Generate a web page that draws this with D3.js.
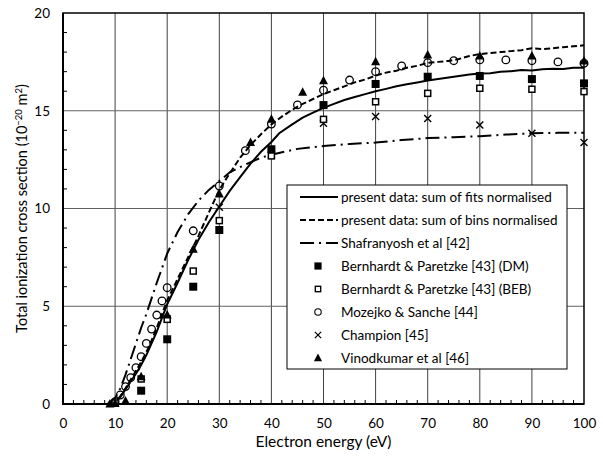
<!DOCTYPE html>
<html><head><meta charset="utf-8">
<script src="https://cdn.jsdelivr.net/npm/d3@7"></script>
<style>body{margin:0;background:#fff}svg{display:block;font-family:Lato,"Open Sans",sans-serif}</style>
</head><body>
<svg id="c" width="603" height="457"></svg>
<script>
// ---- data ----
const xTicks = [0,10,20,30,40,50,60,70,80,90,100];
const yTicks = [0,5,10,15,20];

const fitsE   = [6,9,10,11,12,13,14,15,16,17,18,19,20,22,24,26,28,30,32,34,36,38,40,41.5,44,46,48,50,52,54,56,58,60,62,64,66,68,70,72,74,76,78,80,82,84,86,88,90,92,94,96,98,100];
const fitsY   = [0,0,0.05,0.35,0.75,1.15,1.55,2.0,2.5,3.1,3.7,4.4,5.1,6.2,7.35,8.4,9.3,10.1,10.9,11.6,12.3,12.9,13.4,13.85,14.3,14.65,14.9,15.15,15.35,15.55,15.7,15.85,16.0,16.12,16.25,16.35,16.45,16.55,16.62,16.7,16.78,16.85,16.9,16.92,17.0,17.02,17.08,17.06,17.12,17.15,17.14,17.2,17.2];

const binsE   = [6,9,10,11,12,13,14,15,16,17,18,19,20,22,24,26,28,30,32,34,36,38,40,42,44,46,48,50,52,54,56,58,60,62,64,66,68,70,72,74,76,78,80,82,84,86,88,90,92,94,96,98,100];
const binsY   = [0,0,0.05,0.4,0.8,1.25,1.7,2.15,2.65,3.25,3.9,4.6,5.3,6.4,7.5,8.6,9.8,10.95,11.8,12.6,13.25,13.8,14.3,14.7,15.05,15.35,15.6,15.85,16.05,16.25,16.45,16.6,16.8,16.95,17.05,17.2,17.3,17.45,17.5,17.55,17.65,17.8,17.9,17.95,18.0,18.05,18.1,18.2,18.15,18.2,18.25,18.3,18.35];

const shafE   = [8.5,10,11,12,13,14,15,16,17,18,19,20,22,24,26,28,30,32,35,38,40,45,50,55,60,65,70,75,80,85,90,95,100];
const shafY   = [0,0.3,0.8,1.5,2.3,3.1,3.9,4.6,5.4,6.2,6.95,7.7,8.8,9.7,10.4,10.95,11.4,11.85,12.25,12.6,12.75,13.05,13.2,13.3,13.37,13.5,13.6,13.65,13.7,13.78,13.85,13.87,13.88];

const dmE     = [15,20,25,30,40,50,60,70,80,90,100];
const dmY     = [0.68,3.31,6.0,8.9,13.03,15.29,16.37,16.74,16.78,16.62,16.4];

const bebE    = [10,15,20,25,30,40,50,60,70,80,90,100];
const bebY    = [0.05,1.28,4.33,6.8,9.38,12.69,14.56,15.46,15.89,16.15,16.1,15.98];

const mozE    = [10,11,12,13,14,15,16,17,18,19,20,25,30,35,40,45,50,55,60,65,70,75,80,85,90,95,100];
const mozY    = [0.12,0.46,0.89,1.35,1.86,2.42,3.1,3.83,4.55,5.27,5.95,8.86,11.15,12.96,14.32,15.3,16.05,16.57,17.0,17.29,17.46,17.56,17.6,17.6,17.56,17.5,17.43];

const chE     = [20,30,40,50,60,70,80,90,100];
const chY     = [4.35,10.06,12.75,14.36,14.7,14.6,14.27,13.85,13.37];

const vinE    = [9,10,12,15,20,25,30,36,40,46,50,60,70,80,90,100];
const vinY    = [0,0.02,0.15,1.4,4.55,7.91,10.74,13.37,14.56,15.95,16.54,17.51,17.85,17.8,17.8,17.55];

const legendLabels = ["present data: sum of fits normalised","present data: sum of bins normalised","Shafranyosh et al [42]","Bernhardt & Paretzke [43] (DM)","Bernhardt & Paretzke [43] (BEB)","Mozejko & Sanche [44]","Champion [45]","Vinodkumar et al [46]"];

// ---- drawing ----
const svg = d3.select("#c");
const L=63,R=584,T=13,B=404;
const x = d3.scaleLinear().domain([0,100]).range([L,R]);
const y = d3.scaleLinear().domain([0,20]).range([B,T]);
const zip=(a,b)=>a.map((v,i)=>[v,b[i]]);

// grid
const g = svg.append("g");
g.selectAll(".vg").data(xTicks.filter(d=>d>0&&d<100)).join("line")
 .attr("x1",d=>x(d)).attr("x2",d=>x(d)).attr("y1",T).attr("y2",B).attr("stroke","#404040").attr("stroke-width",1);
g.selectAll(".hg").data(yTicks.filter(d=>d>0&&d<20)).join("line")
 .attr("x1",L).attr("x2",R).attr("y1",d=>y(d)).attr("y2",d=>y(d)).attr("stroke","#606060").attr("stroke-width",1);

// minor ticks
svg.append("g").selectAll("line").data(d3.range(1,20).filter(v=>v%5)).join("line")
 .attr("x1",L).attr("x2",L+4).attr("y1",d=>y(d)).attr("y2",d=>y(d)).attr("stroke","#000");
svg.append("g").selectAll("line").data(d3.range(2,100,2).filter(v=>v%10)).join("line")
 .attr("x1",d=>x(d)).attr("x2",d=>x(d)).attr("y1",B).attr("y2",B-4).attr("stroke","#000");

// frame
svg.append("rect").attr("x",L).attr("y",T).attr("width",R-L).attr("height",B-T).attr("fill","none").attr("stroke","#000").attr("stroke-width",1.5);
svg.append("line").attr("x1",L).attr("x2",L).attr("y1",T).attr("y2",B+1).attr("stroke","#000").attr("stroke-width",2);
svg.append("line").attr("x1",L-1).attr("x2",R).attr("y1",B).attr("y2",B).attr("stroke","#000").attr("stroke-width",2);

// axis labels via d3 axes
const xAxis = d3.axisBottom(x).tickValues(xTicks).tickSize(0).tickPadding(14);
const xa = svg.append("g").attr("transform",`translate(0,${B})`).call(xAxis);
xa.select(".domain").remove();
xa.selectAll("text").attr("font-size",13.5).attr("font-family","Lato").attr("fill","#000");
const yAxis = d3.axisLeft(y).tickValues(yTicks).tickSize(0).tickPadding(13);
const ya = svg.append("g").attr("transform",`translate(${L},0)`).call(yAxis);
ya.select(".domain").remove();
ya.selectAll("text").attr("font-size",13.5).attr("font-family","Lato").attr("fill","#000");

svg.append("text").attr("x",(L+R)/2).attr("y",447).attr("text-anchor","middle").attr("font-size",15.5).text("Electron energy (eV)");
const yl = svg.append("text").attr("transform",`translate(27,${(T+B)/2}) rotate(-90)`).attr("text-anchor","middle").attr("font-size",14.5);
yl.append("tspan").text("Total ionization cross section (10");
yl.append("tspan").attr("dy",-5).attr("font-size",9.5).text("\u221220");
yl.append("tspan").attr("dy",5).text(" m");
yl.append("tspan").attr("dy",-5).attr("font-size",9.5).text("2");
yl.append("tspan").attr("dy",5).text(")");

// lines
const line = d3.line().x(d=>x(d[0])).y(d=>y(d[1]));
const plot = svg.append("g");
plot.append("path").attr("d",line(zip(shafE,shafY))).attr("fill","none").attr("stroke","#000").attr("stroke-width",2).attr("stroke-dasharray","14,5,2,5");
plot.append("path").attr("d",line(zip(binsE,binsY))).attr("fill","none").attr("stroke","#000").attr("stroke-width",2).attr("stroke-dasharray","6,3");
plot.append("path").attr("d",line(zip(fitsE,fitsY))).attr("fill","none").attr("stroke","#000").attr("stroke-width",2);

// markers
function marker(sel, type){
  if(type==="fsq") sel.append("rect").attr("x",-4).attr("y",-4).attr("width",8).attr("height",8).attr("fill","#000");
  if(type==="osq") sel.append("rect").attr("x",-3).attr("y",-3).attr("width",6).attr("height",6).attr("fill","#fff").attr("stroke","#000").attr("stroke-width",1.5);
  if(type==="circ") sel.append("circle").attr("r",3.8).attr("fill","none").attr("stroke","#000").attr("stroke-width",1.3);
  if(type==="x") sel.append("path").attr("d","M-3.5,-3.5L3.5,3.5M-3.5,3.5L3.5,-3.5").attr("stroke","#000").attr("stroke-width",1.4);
  if(type==="tri") sel.append("path").attr("d","M0,-5L4.5,3.5L-4.5,3.5Z").attr("fill","#000");
}
const sets = [[mozE,mozY,"circ"],[chE,chY,"x"],[bebE,bebY,"osq"],[dmE,dmY,"fsq"],[vinE,vinY,"tri"]];
sets.forEach(([E,V,t])=>{
  plot.append("g").selectAll("g").data(zip(E,V)).join("g")
   .attr("transform",d=>`translate(${x(d[0])},${y(d[1])})`).each(function(){marker(d3.select(this),t);});
});

// legend
const lg = svg.append("g");
lg.append("rect").attr("x",287).attr("y",185).attr("width",280).attr("height",184).attr("fill","#fff").attr("stroke","#000").attr("stroke-width",1);
const styles = [["line",null],["line","6,3"],["line","14,5,2,5"],["m","fsq"],["m","osq"],["m","circ"],["m","x"],["m","tri"]];
legendLabels.forEach((lab,i)=>{
  const cy = 197 + i*23;
  const [k,s]=styles[i];
  if(k==="line"){
    lg.append("line").attr("x1",300).attr("x2",338).attr("y1",cy).attr("y2",cy).attr("stroke","#000").attr("stroke-width",2).attr("stroke-dasharray",s);
  } else {
    const m = lg.append("g");
    marker(m,s);
    m.attr("transform",`translate(318,${cy}) scale(${s==="circ"?0.85:0.9})`);
  }
  lg.append("text").attr("x",341).attr("y",cy+4.5).attr("font-size",13.5).text(lab);
});
</script>
</body></html>
